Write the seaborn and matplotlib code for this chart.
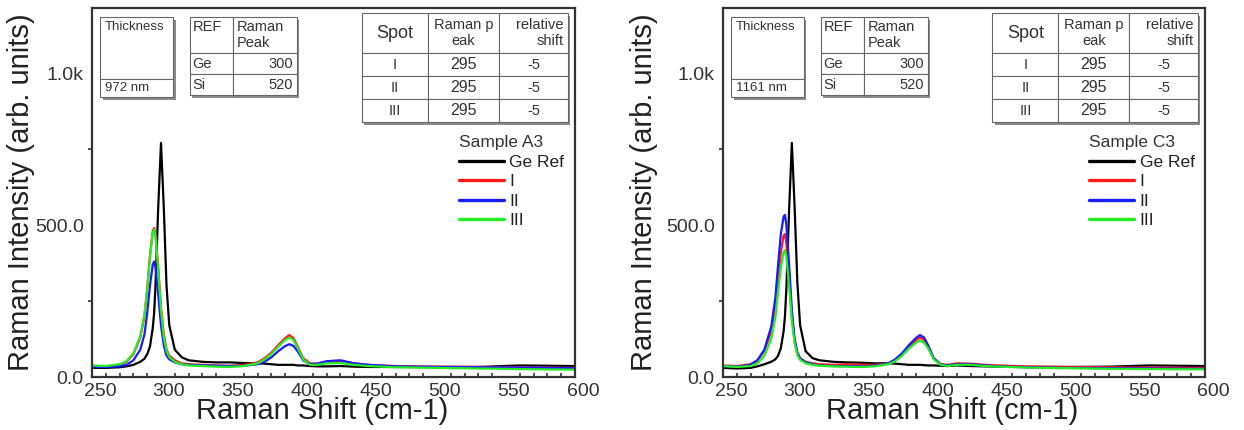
# Espectros Raman: muestras A3 y C3 frente a la referencia de Ge
import numpy as np
import pandas as pd
import matplotlib.pyplot as plt
import seaborn as sns
from matplotlib.lines import Line2D
from matplotlib.patches import Rectangle
from matplotlib.ticker import MultipleLocator, FixedLocator
from matplotlib.transforms import ScaledTranslation

sns.set_theme(style="white")
plt.rcParams['font.family'] = ['Liberation Sans', 'DejaVu Sans']

# Datos
shift = [250, 260, 270, 275, 280, 285, 288, 290, 292, 294, 295, 296, 298, 300,
         302, 304, 306, 310, 315, 320, 330, 340, 350, 360, 370, 375, 380, 385,
         390, 393, 396, 399, 403, 408, 413, 420, 430, 440, 450, 470, 500, 530,
         560, 600]

a3_ge = [30, 30, 32, 35, 40, 50, 60, 75, 100, 160, 210, 300, 560, 770,
         560, 300, 170, 90, 65, 55, 50, 48, 48, 46, 45, 44, 42, 40,
         40, 40, 40, 38, 38, 36, 35, 35, 36, 34, 33, 33, 33, 33,
         38, 36]
a3_i = [35, 35, 40, 50, 75, 130, 200, 290, 400, 480, 490, 470, 360, 230,
        140, 90, 70, 55, 45, 42, 40, 38, 37, 40, 48, 62, 80, 105,
        128, 138, 128, 100, 62, 45, 44, 50, 52, 45, 40, 36, 34, 33,
        32, 30]
a3_ii = [32, 33, 35, 40, 55, 90, 140, 210, 300, 370, 380, 360, 270, 170,
         105, 70, 58, 48, 42, 40, 38, 37, 36, 37, 42, 50, 65, 85,
         102, 108, 102, 85, 55, 42, 44, 52, 55, 45, 40, 35, 33, 32,
         31, 29]
a3_iii = [38, 36, 42, 52, 78, 135, 205, 290, 395, 475, 485, 465, 350, 220,
          130, 85, 65, 50, 42, 38, 36, 34, 33, 36, 45, 58, 76, 100,
          122, 130, 122, 96, 58, 40, 40, 45, 46, 40, 36, 32, 30, 28,
          26, 24]

c3_ge = [30, 28, 30, 35, 42, 50, 58, 70, 95, 150, 200, 290, 550, 770,
         560, 310, 170, 85, 62, 55, 50, 48, 47, 45, 45, 44, 42, 40,
         40, 40, 39, 38, 38, 37, 36, 38, 36, 35, 34, 33, 33, 34,
         38, 36]
c3_i = [38, 36, 42, 55, 85, 150, 230, 320, 410, 465, 470, 440, 330, 200,
        120, 80, 62, 50, 45, 42, 40, 42, 40, 40, 45, 55, 72, 98,
        120, 130, 122, 98, 60, 42, 40, 45, 44, 40, 38, 35, 33, 32,
        31, 30]
c3_ii = [35, 34, 40, 55, 90, 165, 260, 370, 470, 528, 533, 500, 370, 220,
         125, 80, 60, 48, 42, 38, 36, 36, 35, 37, 45, 58, 78, 105,
         128, 138, 130, 104, 62, 42, 38, 42, 42, 38, 35, 32, 30, 29,
         28, 27]
c3_iii = [36, 33, 36, 45, 70, 125, 195, 280, 360, 410, 418, 395, 300, 185,
          110, 72, 56, 45, 40, 37, 35, 34, 33, 35, 42, 52, 70, 94,
          112, 120, 113, 94, 58, 40, 36, 40, 40, 36, 34, 31, 29, 27,
          26, 25]

series_names = ['Ge Ref', 'I', 'II', 'III']
series_colors = ['#000000', '#ff1a1a', '#1a1aff', '#22ee22']

# Tablas
thickness_a3 = ['972 nm']
thickness_c3 = ['1161 nm']
ref_header = ['REF\n', 'Raman\nPeak']
ref_rows = [['Ge', '300'], ['Si', '520']]
spot_header = ['Spot', 'Raman p\neak', 'relative\nshift']
spot_rows = [['I', '295', '-5'], ['II', '295', '-5'], ['III', '295', '-5']]

y_ticks = [0, 500, 1000]
y_tick_labels = ['0.0', '500.0', '1.0k']


def make_df(values):
    frames = []
    for name, vals in zip(series_names, values):
        frames.append(pd.DataFrame({'shift': shift, 'intensity': vals, 'serie': name}))
    return pd.concat(frames, ignore_index=True)


def add_table(ax, cells, bbox, col_w, row_h, locs, sizes):
    tb = ax.table(cellText=cells, bbox=bbox, cellLoc='center')
    tb.auto_set_font_size(False)
    tb.set_zorder(6)
    for (r, c), cell in tb.get_celld().items():
        cell.set_width(col_w[c])
        cell.set_height(row_h[r])
        cell.set_edgecolor('#666666')
        cell.set_linewidth(0.8)
        cell.set_facecolor('white')
        cell._loc = locs[r][c]
        cell.PAD = 0.06
        txt = cell.get_text()
        txt.set_ha(locs[r][c])
        txt.set_multialignment(locs[r][c])
        txt.set_fontsize(sizes[r][c])
        txt.set_color('#333333')
    # sombra del cuadro
    ax.add_patch(Rectangle((bbox[0] + 0.005, bbox[1] - 0.008), bbox[2], bbox[3],
                           transform=ax.transAxes, facecolor='#8a8a8a',
                           edgecolor='none', zorder=5))
    return tb


def draw_panel(ax, values, sample, thickness):
    df = make_df(values)
    sns.lineplot(data=df, x='shift', y='intensity', hue='serie',
                 hue_order=series_names, palette=dict(zip(series_names, series_colors)),
                 linewidth=1.6, legend=False, ax=ax, estimator=None, sort=False)

    ax.set_xlim(250, 600)
    ax.set_ylim(0, 1214)
    ax.xaxis.set_major_locator(MultipleLocator(50))
    ax.xaxis.set_minor_locator(MultipleLocator(10))
    ax.set_yticks(y_ticks)
    ax.set_yticklabels(y_tick_labels)
    ax.yaxis.set_minor_locator(FixedLocator([250, 750]))

    ax.tick_params(axis='x', which='major', direction='in', length=5, width=1.3,
                   labelsize=14, colors='#333333', pad=4)
    ax.tick_params(axis='x', which='minor', direction='in', length=3, width=1.2,
                   colors='#333333', bottom=True)
    ax.tick_params(axis='y', which='major', direction='out', length=5, width=1.3,
                   labelsize=14, colors='#333333', pad=1)
    ax.tick_params(axis='y', which='minor', direction='out', length=3, width=1.2,
                   colors='#333333', left=True)
    offset = ScaledTranslation(0.08, 0, ax.figure.dpi_scale_trans)
    for lab in ax.get_xticklabels():
        lab.set_transform(lab.get_transform() + offset)

    for sp in ax.spines.values():
        sp.set_color('#333333')
        sp.set_linewidth(1.6)

    ax.set_xlabel('Raman Shift (cm-1)', fontsize=21, color='#222222')
    ax.set_ylabel('Raman Intensity (arb. units)', fontsize=21, color='#222222')
    ax.xaxis.set_label_coords(0.476, -0.055)

    handles = [Line2D([], [], color=c, lw=2.4) for c in series_colors]
    leg = ax.legend(handles, series_names, title=sample, loc='upper left',
                    bbox_to_anchor=(0.76, 0.655), frameon=False, fontsize=12.5,
                    title_fontsize=12.5, handlelength=2.6, handletextpad=0.3,
                    labelspacing=0.25, borderpad=0, borderaxespad=0,
                    alignment='left')
    for t in leg.get_texts():
        t.set_color('#222222')
    leg.get_title().set_color('#333333')

    add_table(ax, [['Thickness\n\n\n'], thickness], [0.017, 0.759, 0.151, 0.217],
              [1.0], [62, 18], [['left'], ['left']], [[9.5], [9.5]])
    add_table(ax, [ref_header] + ref_rows, [0.203, 0.764, 0.2215, 0.211],
              [43, 64], [36, 21, 21],
              [['left', 'left'], ['left', 'right'], ['left', 'right']],
              [[10.5, 10.5]] * 3)
    add_table(ax, [spot_header] + spot_rows, [0.559, 0.691, 0.4265, 0.295],
              [66, 71, 69], [40, 23, 23, 23],
              [['center', 'center', 'right']] + [['center', 'center', 'center']] * 3,
              [[13, 10.5, 10.5]] + [[10.5, 11.5, 10.5]] * 3)


fig = plt.figure(figsize=(12.44, 4.30), dpi=100)
ax1 = fig.add_axes([92 / 1244, 1 - 377 / 430, 483 / 1244, 369 / 430])
ax2 = fig.add_axes([723 / 1244, 1 - 377 / 430, 482 / 1244, 369 / 430])

draw_panel(ax1, [a3_ge, a3_i, a3_ii, a3_iii], 'Sample A3', thickness_a3)
draw_panel(ax2, [c3_ge, c3_i, c3_ii, c3_iii], 'Sample C3', thickness_c3)
ax1.yaxis.set_label_coords(-0.118, 0.5)
ax2.yaxis.set_label_coords(-0.135, 0.5)

fig.savefig('out.png', dpi=100)
plt.close(fig)
